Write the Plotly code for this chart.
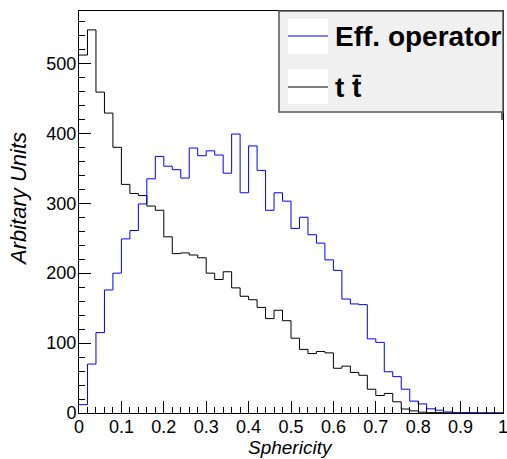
import plotly.graph_objects as go

# Bin edges: 50 bins of width 0.02 over [0, 1]
n_bins = 50
bin_width = 0.02
edges = [round(i * bin_width, 2) for i in range(n_bins + 1)]

eff_operator = [12, 70, 115, 176, 200, 249, 261, 299, 335, 367,
                353, 348, 336, 379, 368, 375, 369, 343, 399, 315,
                382, 347, 290, 315, 303, 264, 280, 255, 243, 219,
                204, 163, 156, 155, 106, 101, 59, 52, 34, 17,
                13, 6, 4, 1.5, 0.5, 0.5, 0.3, 0, 0, 0]

ttbar = [512, 548, 459, 429, 380, 327, 314, 311, 296, 290,
         252, 228, 229, 226, 222, 200, 191, 202, 179, 167,
         162, 151, 135, 147, 132, 107, 91, 85, 88, 86,
         64, 67, 58, 54, 34, 25, 28, 16, 5.7, 3,
         1.2, 0.5, 0.5, 0.2, 0, 0, 0, 0, 0, 0]

series_names = ["Eff. operator", "t t\u0304"]
x_title = "Sphericity"
y_title = "Arbitary Units"
x_tick_vals = [i / 10 for i in range(11)]
x_tick_text = ["0", "0.1", "0.2", "0.3", "0.4", "0.5", "0.6", "0.7", "0.8", "0.9", "1"]
y_tick_vals = [0, 100, 200, 300, 400, 500]

FONT = "Liberation Sans, Arial, Helvetica, sans-serif"

fig = go.Figure()
fig.add_trace(go.Scatter(x=edges, y=ttbar + [ttbar[-1]], mode="lines",
                         line=dict(color="black", width=1, shape="hv"),
                         name=series_names[1], showlegend=False))
fig.add_trace(go.Scatter(x=edges, y=eff_operator + [eff_operator[-1]], mode="lines",
                         line=dict(color="#0000ff", width=1, shape="hv"),
                         name=series_names[0], showlegend=False))

W, H = 507, 459
L, R, T, B = 79, 4, 11, 46
pw, ph = W - L - R, H - T - B


def px(x):
    return (x - L) / pw


def py(y):
    return (H - B - y) / ph


shapes = []
# legend shadow hint
shapes.append(dict(type="line", xref="paper", yref="paper", x0=px(502), x1=px(502),
                   y0=py(112), y1=py(120), line=dict(color="#333333", width=1.5)))
# legend box
shapes.append(dict(type="rect", xref="paper", yref="paper", x0=px(279), x1=px(503),
                   y0=py(112), y1=py(11), fillcolor="#f0f0f0",
                   line=dict(color="#555555", width=1.5), layer="above"))
# entry boxes
for (y0, y1, yl, col) in [(19, 54, 36, "#0000ff"), (69, 104, 87, "black")]:
    shapes.append(dict(type="rect", xref="paper", yref="paper", x0=px(288), x1=px(328),
                       y0=py(y1), y1=py(y0), fillcolor="white",
                       line=dict(width=0), layer="above"))
    shapes.append(dict(type="line", xref="paper", yref="paper", x0=px(288), x1=px(328),
                       y0=py(yl), y1=py(yl), line=dict(color=col, width=1), layer="above"))

annotations = [
    dict(text="<b>%s</b>" % series_names[0], xref="paper", yref="paper",
         x=px(333), y=py(36), xanchor="left", yanchor="middle", showarrow=False,
         font=dict(family=FONT, size=28, color="black")),
    dict(text="<b>%s</b>" % series_names[1], xref="paper", yref="paper",
         x=px(333), y=py(88), xanchor="left", yanchor="middle", showarrow=False,
         font=dict(family=FONT, size=28, color="black")),
    dict(text="<i>%s</i>" % x_title, xref="paper", yref="paper",
         x=px(290), y=py(447), xanchor="center", yanchor="middle", showarrow=False,
         font=dict(family=FONT, size=19, color="black")),
    dict(text="<i>%s</i>" % y_title, xref="paper", yref="paper", textangle=-90,
         x=px(18), y=py(199), xanchor="center", yanchor="middle", showarrow=False,
         font=dict(family=FONT, size=22, color="black")),
]

fig.update_layout(
    width=W, height=H,
    margin=dict(l=L, r=R, t=T, b=B, autoexpand=False),
    paper_bgcolor="white", plot_bgcolor="white",
    font=dict(family=FONT, size=18, color="black"),
    shapes=shapes, annotations=annotations,
    showlegend=False,
)
fig.update_xaxes(
    range=[0, 1], showgrid=False, zeroline=False, automargin=False,
    showline=True, linecolor="black", linewidth=1, mirror=True,
    ticks="inside", ticklen=12, tickcolor="black", tickwidth=1,
    tickmode="array", tickvals=x_tick_vals, ticktext=x_tick_text,
    minor=dict(ticks="inside", ticklen=6, dtick=0.02, tickcolor="black", showgrid=False),
    tickfont=dict(size=18), ticklabelstandoff=-3, ticklabeloverflow="allow",
)
fig.update_yaxes(
    range=[0, 575], showgrid=False, zeroline=False, automargin=False,
    showline=True, linecolor="black", linewidth=1, mirror=True,
    ticks="inside", ticklen=12, tickcolor="black", tickwidth=1,
    tickmode="array", tickvals=y_tick_vals,
    minor=dict(ticks="inside", ticklen=6, dtick=20, tickcolor="black", showgrid=False),
    tickfont=dict(size=18), ticklabelstandoff=-2, ticklabeloverflow="allow",
)

fig.write_html(
    "out.html",
    config={"displayModeBar": False},
    post_script="document.body.style.margin='0';document.body.style.overflow='hidden';",
)
